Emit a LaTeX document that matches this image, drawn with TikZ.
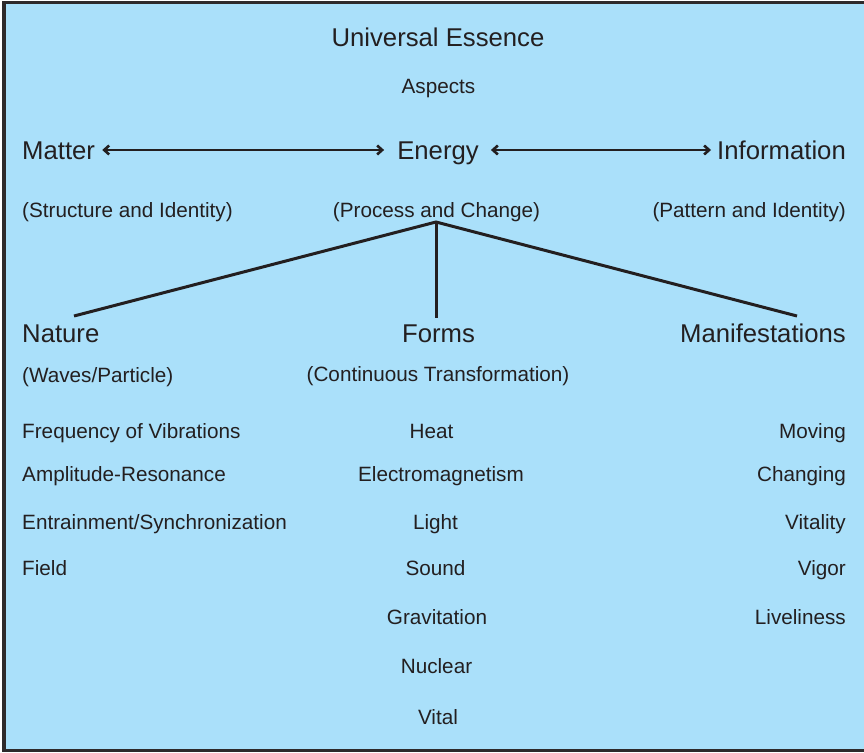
\documentclass[tikz,border=0pt]{standalone}
\usepackage{fontspec}
\setmainfont{Liberation Sans}
\usepackage{xcolor}
\usetikzlibrary{arrows.meta}

\definecolor{panel}{HTML}{AAE0FA}
\definecolor{ink}{HTML}{231F20}

\tikzset{
  head/.style={inner sep=0pt, text=ink, text height=0.716em, text depth=0pt,
    font=\fontsize{25.7}{30}\selectfont},
  body/.style={inner sep=0pt, text=ink, text height=0.716em, text depth=0pt,
    font=\fontsize{20.7}{24}\selectfont},
  link/.style={draw=ink, line width=2.6pt, {Straight Barb[length=5pt,width=9pt]}-{Straight Barb[length=5pt,width=9pt]}},
  branch/.style={draw=ink, line width=3pt}
}

\begin{document}
\begin{tikzpicture}[x=1pt,y=-1pt]
\useasboundingbox (0,0) rectangle (864,752);
\filldraw [fill=panel, draw=ink!95, line width=3.5pt] (4,2.5) rectangle (880,750.5);

% title
\node [head] (title) at (438,43) {Universal Essence};
\node [body] (aspects) at (438.5,90) {Aspects};

% the three aspects
\node [head, anchor=west] (matter) at (22,156) {Matter};
\node [head] (energy) at (438,156) {Energy};
\node [head, anchor=east] (info) at (846,156) {Information};
\node [body, anchor=west] (matterSub) at (22,214) {(Structure and Identity)};
\node [body] (energySub) at (436.5,214) {(Process and Change)};
\node [body, anchor=east] (infoSub) at (846,214) {(Pattern and Identity)};

\draw [link] ([xshift=7pt,yshift=6pt]matter.east) -- ([xshift=-13pt,yshift=6pt]energy.west);
\draw [link] ([xshift=12pt,yshift=6pt]energy.east) -- ([xshift=-6pt,yshift=6pt]info.west);

% branches out of energy
\node [head, anchor=west] (nature) at (22,339) {Nature};
\node [head] (forms) at (438.5,339) {Forms};
\node [head, anchor=east] (manif) at (846,339) {Manifestations};
\node [body, anchor=west] (natureSub) at (22,379) {(Waves/Particle)};
\node [body] (formsSub) at (438,378) {(Continuous Transformation)};

\coordinate (root) at (436,222);
\coordinate (natureTop) at (74,316);
\coordinate (formsTop) at (436,318);
\coordinate (manifTop) at (797,316);
\draw [branch] (natureTop) -- (root) -- (manifTop);
\draw [branch] (root) -- (formsTop);

% nature list
\node [body, anchor=west] (n1) at (22,435) {Frequency of Vibrations};
\node [body, anchor=west] (n2) at (22,478) {Amplitude-Resonance};
\node [body, anchor=west] (n3) at (22,526) {Entrainment/Synchronization};
\node [body, anchor=west] (n4) at (22,572) {Field};

% forms list
\node [body] (f1) at (431.5,435) {Heat};
\node [body] (f2) at (441,478) {Electromagnetism};
\node [body] (f3) at (435.5,526) {Light};
\node [body] (f4) at (435.5,572) {Sound};
\node [body] (f5) at (437,621) {Gravitation};
\node [body] (f6) at (436.5,670) {Nuclear};
\node [body] (f7) at (438,721) {Vital};

% manifestations list
\node [body, anchor=east] (m1) at (846,435) {Moving};
\node [body, anchor=east] (m2) at (846,478) {Changing};
\node [body, anchor=east] (m3) at (846,526) {Vitality};
\node [body, anchor=east] (m4) at (846,572) {Vigor};
\node [body, anchor=east] (m5) at (846,621) {Liveliness};
\end{tikzpicture}
\end{document}
